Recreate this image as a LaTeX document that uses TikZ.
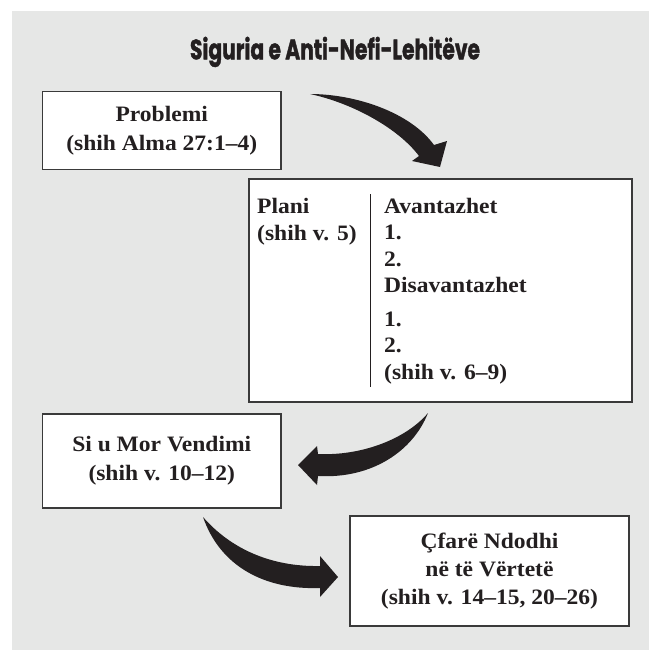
\documentclass[tikz,border=0pt]{standalone}
\usepackage{fontspec}
\setmainfont{Liberation Serif}[FakeStretch=1.07]
\newfontfamily\titlefont{Poppins}[BoldFeatures={FakeBold=1.6}]
\usepackage{graphicx}
\definecolor{panel}{HTML}{E6E7E6}
\definecolor{ink}{HTML}{231F20}
\definecolor{edge}{HTML}{3A3A3A}
\begin{document}
\begin{tikzpicture}[x=1pt,y=-1pt,
  box/.style={draw=edge, line width=1.1pt, fill=white, inner sep=0pt},
  txt/.style={font=\fontsize{22}{29}\selectfont\bfseries, text=ink, align=center, inner sep=0pt},
  ln/.style={font=\fontsize{22}{27}\selectfont\bfseries, text=ink, anchor=base west, inner sep=0pt},
  bigarrow/.style={fill=ink, draw=none},
  divider/.style={draw=ink, line width=1pt}]
\useasboundingbox (0,0) rectangle (649,650);
\fill[panel] (12,11) rectangle (649,650);

% title
\node[anchor=base, inner sep=0pt, text=ink] (title) at (335,59.3)
  {\resizebox{290pt}{22.5pt}{\titlefont\bfseries\fontsize{25.4}{30}\selectfont Siguria e Anti-Nefi-Lehitëve}};

% boxes
\node[box, minimum width=238.5pt, minimum height=78.4pt] (prob) at (161.75,130.5) {};
\node[box, minimum width=383pt, minimum height=223pt] (plan) at (440.5,290.5) {};
\node[box, minimum width=238.5pt, minimum height=94pt] (mor) at (161.75,461) {};
\node[box, minimum width=279pt, minimum height=110pt] (cfar) at (489.5,571) {};

% box texts
\node[txt] (probtxt) at (prob.center) {Problemi\\(shih Alma 27:1–4)};
\node[txt] (mortxt) at (mor.center) {Si u Mor Vendimi\\(shih v. 10–12)};
\node[txt, font=\fontsize{22}{28.2}\selectfont\bfseries] (cfartxt) at (cfar.center) {Çfarë Ndodhi\\në të Vërtetë\\(shih v. 14–15, 20–26)};

% plan box contents
\node[ln] (plani) at (257,213) {Plani};
\node[ln] (planiref) at (257,240) {(shih v. 5)};
\node[ln] (av) at (384,213) {Avantazhet};
\node[ln] (av1) at (384,239.5) {1.};
\node[ln] (av2) at (384,266) {2.};
\node[ln] (dis) at (384,292.5) {Disavantazhet};
\node[ln] (dis1) at (384,326) {1.};
\node[ln] (dis2) at (384,352.5) {2.};
\node[ln] (disref) at (384,379) {(shih v. 6–9)};
\coordinate (divtop) at (370,194);
\coordinate (divbot) at (370,387);
\draw[divider] (divtop) -- (divbot);

% arrow 1: Problemi -> Plani
\coordinate (a1tail) at (310,94);
\fill[bigarrow] (a1tail) .. controls (355,94) and (410,112) .. (434,145)
  -- (447,141) -- (440,167) -- (412,161) -- (419,156)
  .. controls (398,128) and (352,103) .. (a1tail) -- cycle;

% arrow 2: Plani -> Si u Mor Vendimi
\coordinate (a2tail) at (428,413);
\fill[bigarrow] (a2tail) .. controls (405,440) and (360,456) .. (318,454)
  -- (317,446) -- (298,465) -- (317,485) -- (318,476)
  .. controls (372,479) and (413,451) .. (a2tail) -- cycle;

% arrow 3: Si u Mor Vendimi -> Cfare Ndodhi
\coordinate (a3tail) at (203,517);
\fill[bigarrow] (a3tail) .. controls (230,548) and (270,567) .. (320,566)
  -- (320,556) -- (338,577) -- (320,597) -- (320,588)
  .. controls (264,590) and (220,566) .. (a3tail) -- cycle;
\end{tikzpicture}
\end{document}
